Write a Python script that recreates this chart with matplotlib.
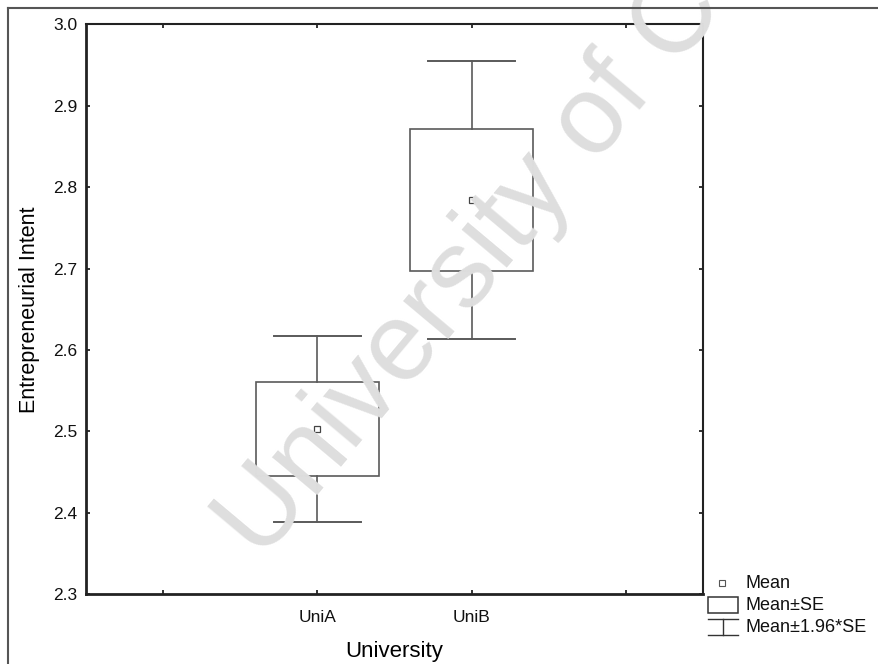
import matplotlib.pyplot as plt
from matplotlib.patches import Rectangle
from matplotlib.lines import Line2D
import numpy as np

plt.rcParams['font.family'] = ['Liberation Sans', 'DejaVu Sans']

groups = ['UniA', 'UniB']
positions = [1.5, 2.5]
means = [2.503, 2.784]
se = [0.058, 0.087]
extra_ticks = [0.5, 3.5]

W, H = 879, 664
line_col = '#5a5a5a'


def px(x, y):
    # pixel coords (top-left origin) -> figure fraction
    return x / W, 1 - y / H


fig = plt.figure(figsize=(W / 100, H / 100), dpi=100)
ax = fig.add_axes([86 / W, 1 - 594.3 / H, (703 - 86) / W, (594.3 - 24.3) / H])

box_w = 0.80
cap_w = 0.56
for p, m, s in zip(positions, means, se):
    lo, hi = m - 1.96 * s, m + 1.96 * s
    ax.add_patch(Rectangle((p - box_w / 2, m - s), box_w, 2 * s,
                           fill=False, edgecolor=line_col, lw=1.2, zorder=3))
    ax.plot([p, p], [m + s, hi], color=line_col, lw=1.2)
    ax.plot([p, p], [lo, m - s], color=line_col, lw=1.2)
    ax.plot([p - cap_w / 2, p + cap_w / 2], [hi, hi], color=line_col, lw=1.4)
    ax.plot([p - cap_w / 2, p + cap_w / 2], [lo, lo], color=line_col, lw=1.4)
ax.plot(positions, means, 's', ms=5, mfc='white', mec='#444444', mew=0.9,
        linestyle='none', zorder=4)

ax.set_xlim(0, 4)
ax.set_ylim(2.3, 3.0)
ax.set_xticks(extra_ticks[:1] + positions + extra_ticks[1:])
ax.set_xticklabels([''] + groups + [''])
ax.set_yticks(np.arange(2.3, 3.01, 0.1))
ax.set_yticklabels([f'{v:.1f}' for v in np.arange(2.3, 3.01, 0.1)])
ax.tick_params(direction='in', length=3, width=1.2, top=True, right=True,
               labelsize=12.5, colors='#111111', pad=6)
ax.tick_params(axis='x', pad=11)
for sp in ax.spines.values():
    sp.set_linewidth(1.5)
    sp.set_color('#222222')
ax.spines['left'].set_linewidth(2)
ax.spines['bottom'].set_linewidth(2)

ax.set_xlabel('University', fontsize=16, labelpad=12)
ax.set_ylabel('Entrepreneurial Intent', fontsize=15.5, labelpad=10)

# legend drawn in pixel positions
x0, y0 = px(722, 583)
fig.add_artist(Line2D([x0], [y0], marker='s', ms=4, mfc='white', mec='#555555',
                      mew=0.8, transform=fig.transFigure))
fx, fy = px(708, 613)
fw, fh = 30 / W, 16 / H
fig.add_artist(Rectangle((fx, fy), fw, fh, fill=False, edgecolor='#333333',
                         lw=1.1, transform=fig.transFigure))
for yy in (619, 635):
    a, b = px(708, yy)
    c, _ = px(738, yy)
    fig.add_artist(Line2D([a, c], [b, b], color='#333333', lw=1.0,
                          transform=fig.transFigure))
a, b = px(723, 619)
_, d = px(723, 635)
fig.add_artist(Line2D([a, a], [b, d], color='#333333', lw=1.0,
                      transform=fig.transFigure))
for label, yy in zip(['Mean', 'Mean±SE', 'Mean±1.96*SE'], [583, 605, 627]):
    tx, ty = px(746, yy)
    fig.text(tx, ty, label, fontsize=13, va='center', ha='left', color='#111111')

# outer frame
for xs, ys in [((8, W), (8, 8)), ((8, 8), (8, H))]:
    p1 = px(xs[0], ys[0])
    p2 = px(xs[1], ys[1])
    fig.add_artist(Line2D([p1[0], p2[0]], [p1[1], p2[1]], color='#555555',
                          lw=1.5, transform=fig.transFigure))

# watermark
wx, wy = px(261, 562)
fig.text(wx, wy, 'University of Cape Town', fontsize=80, color='#dedede',
         rotation=50, rotation_mode='anchor', ha='left', va='baseline',
         zorder=0)

fig.savefig('out.png', dpi=100)
